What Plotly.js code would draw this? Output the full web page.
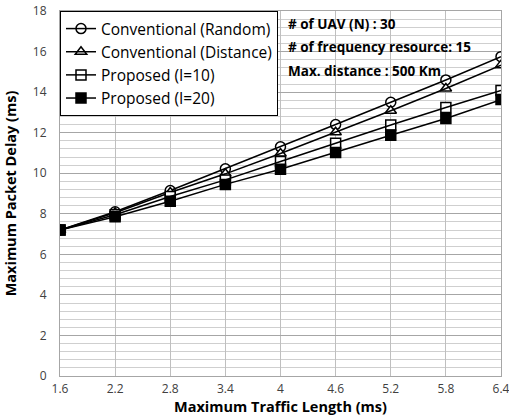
<!DOCTYPE html>
<html>
<head>
<meta charset="utf-8">
<script src="https://cdn.plot.ly/plotly-3.0.1.min.js"></script>
<style>html,body{margin:0;padding:0;background:#fff;}#chart{width:509px;height:420px;}</style>
</head>
<body>
<div id="chart"></div>
<script>
const xValues = [1.6, 2.2, 2.8, 3.4, 4.0, 4.6, 5.2, 5.8, 6.4];
const xTickLabels = ["1.6", "2.2", "2.8", "3.4", "4", "4.6", "5.2", "5.8", "6.4"];
const convRandom   = [7.2, 8.1, 9.15, 10.22, 11.3, 12.4, 13.5, 14.6, 15.75];
const convDistance = [7.2, 8.05, 9.05, 9.97, 10.97, 12.02, 13.08, 14.18, 15.33];
const proposed10   = [7.2, 7.95, 8.85, 9.67, 10.58, 11.48, 12.38, 13.24, 14.08];
const proposed20   = [7.2, 7.85, 8.62, 9.45, 10.2, 11.02, 11.87, 12.7, 13.63];
const seriesNames = ["Conventional (Random)", "Conventional (Distance)", "Proposed (I=10)", "Proposed (I=20)"];
const annotationLines = ["# of UAV (N) : 30", "# of frequency resource: 15", "Max. distance : 500 Km"];

const font = "Open Sans, Noto Sans, Arial, sans-serif";
const seriesData = [convRandom, convDistance, proposed10, proposed20];
const symbols = ["circle-open", "triangle-up-open", "square-open", "square"];
const traces = seriesData.map((ys, i) => ({
  x: xValues, y: ys, name: seriesNames[i], type: "scatter", mode: "lines+markers",
  line: {color: "#000", width: 1.5},
  marker: {symbol: symbols[i], size: 10, color: "#000",
    line: {color: "#000", width: 1.5}}
}));
const fills = seriesData.slice(0, 3).map((ys, i) => ({
  x: xValues, y: ys, type: "scatter", mode: "markers", showlegend: false, hoverinfo: "skip",
  marker: {symbol: ["circle", "triangle-up", "square"][i], size: 9, color: "#fff"}
}));
const data = [];
traces.forEach((t, i) => { if (i < 3) data.push(fills[i]); data.push(t); });

const layout = {
  width: 509, height: 420,
  margin: {l: 60, r: 8, t: 11, b: 44},
  paper_bgcolor: "#fff", plot_bgcolor: "#fff",
  showlegend: true,
  legend: {x: 0, y: 1, xanchor: "left", yanchor: "top", bgcolor: "#fff",
    bordercolor: "#000", borderwidth: 1, font: {family: font, size: 15.5, color: "#000"},
    tracegroupgap: 0, itemwidth: 30},
  xaxis: {
    range: [1.6, 6.4], tickmode: "array", tickvals: xValues, ticktext: xTickLabels,
    showgrid: true, gridcolor: "#bfbfbf", gridwidth: 1, zeroline: false,
    showline: true, linecolor: "#a6a6a6", mirror: true, ticks: "",
    ticklabeloverflow: "allow", ticklabelstandoff: 2,
    tickfont: {family: font, size: 12, color: "#404040"},
    title: {text: "<b>Maximum Traffic Length (ms)</b>", font: {family: font, size: 14.5, color: "#000"}, standoff: 3}
  },
  yaxis: {
    range: [0, 18], dtick: 2, showgrid: true, gridcolor: "#a6a6a6", gridwidth: 1, zeroline: false,
    minor: {dtick: 0.4, showgrid: true, gridcolor: "#cfcfcf", gridwidth: 1},
    showline: true, linecolor: "#a6a6a6", mirror: true, ticks: "",
    ticklabelstandoff: 10,
    tickfont: {family: font, size: 12, color: "#404040"},
    title: {text: "<b>Maximum Packet Delay (ms)</b>", font: {family: font, size: 14.5, color: "#000"}, standoff: 12}
  },
  annotations: annotationLines.map((t, i) => ({
    xref: "paper", yref: "paper", x: 0.512, y: 0.995 - i * 0.064, xanchor: "left", yanchor: "top",
    text: "<b>" + t + "</b>", showarrow: false, font: {family: font, size: 13.5, color: "#000"}
  }))
};
Plotly.newPlot("chart", data, layout, {displayModeBar: false, staticPlot: true});
</script>
</body>
</html>
